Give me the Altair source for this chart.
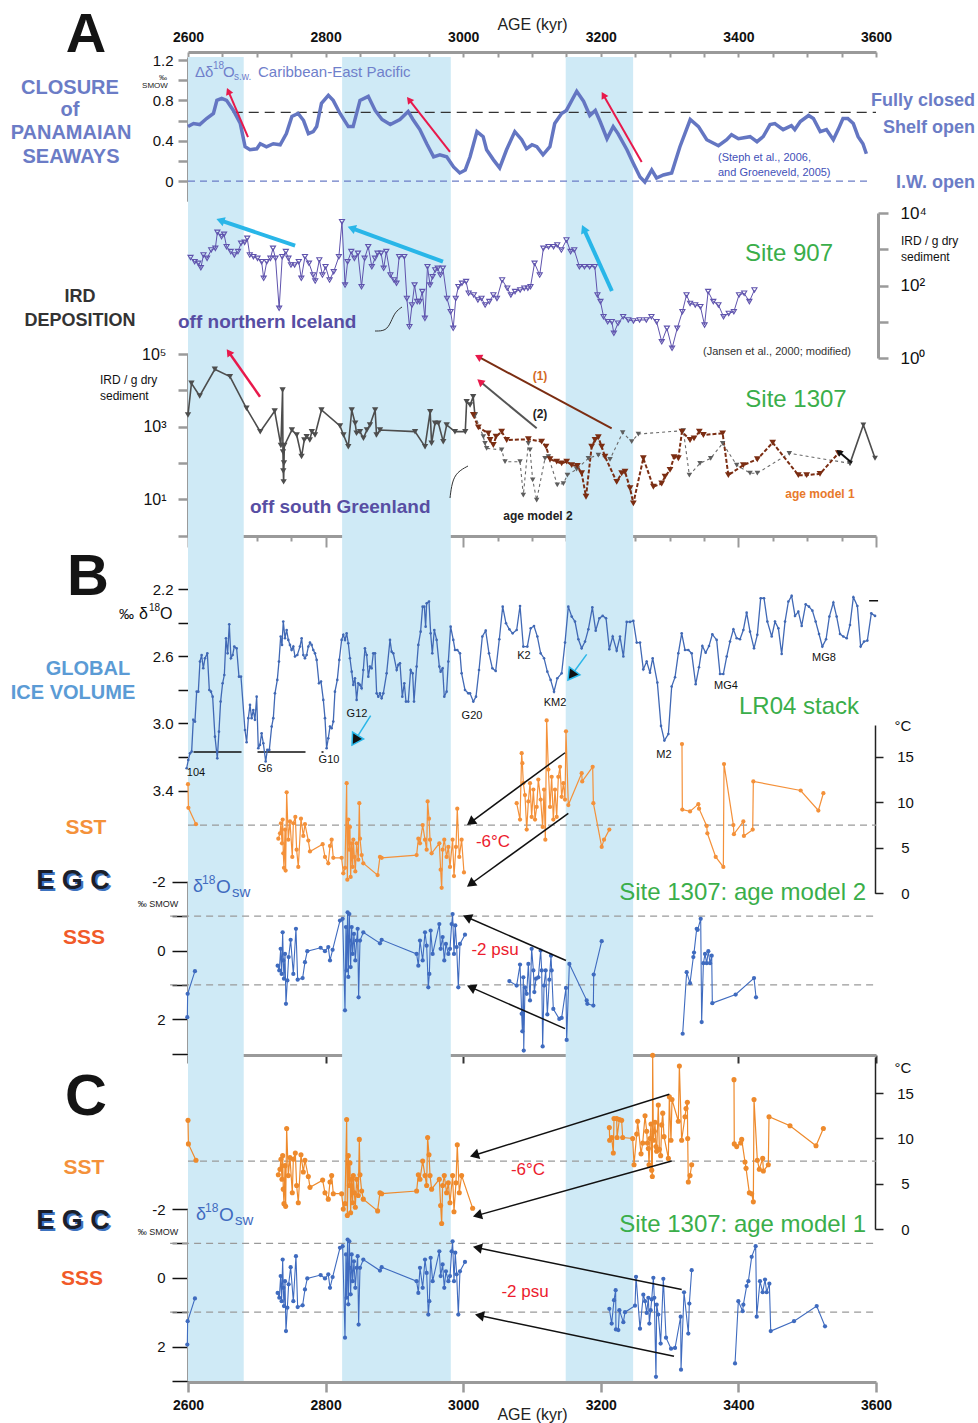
import math
import altair as alt
import pandas as pd

FONT = "Liberation Sans"

# ---------------- values ----------------
AGE_LABELS = [2600, 2800, 3000, 3200, 3400, 3600]
AGE_MINOR = list(range(2600, 3601, 50))
BAND_START = [2600, 2824, 3149]
BAND_END = [2681, 2982, 3247]

# Delta d18O sw Caribbean - East Pacific (permil)
PANAMA = [(2600,0.54),(2608,0.57),(2617,0.56),(2627,0.62),(2637,0.67),(2642,0.80),(2649,0.82),(2656,0.80),
          (2666,0.70),(2676,0.57),(2683,0.34),(2690,0.31),(2700,0.32),(2705,0.37),(2714,0.34),(2724,0.37),
          (2734,0.36),(2743,0.47),(2751,0.64),(2760,0.67),(2768,0.60),(2775,0.47),(2782,0.49),(2787,0.54),
          (2794,0.77),(2804,0.85),(2811,0.80),(2821,0.67),(2833,0.54),(2840,0.54),(2850,0.80),(2862,0.84),
          (2872,0.70),(2882,0.61),(2894,0.56),(2908,0.61),(2920,0.69),(2927,0.61),(2937,0.51),(2947,0.37),
          (2957,0.24),(2966,0.26),(2976,0.24),(2986,0.14),(2995,0.08),(3003,0.11),(3010,0.24),(3020,0.49),
          (3029,0.44),(3034,0.31),(3044,0.21),(3053,0.13),(3063,0.31),(3075,0.49),(3085,0.41),(3092,0.32),
          (3100,0.36),(3107,0.34),(3116,0.26),(3126,0.34),(3133,0.57),(3143,0.67),(3150,0.70),(3165,0.89),
          (3175,0.79),(3184,0.65),(3192,0.70),(3199,0.59),(3209,0.42),(3218,0.54),(3225,0.47),(3238,0.31),
          (3247,0.18),(3257,0.04),(3264,-0.01),(3274,0.11),(3281,0.03),(3291,0.06),(3303,0.08),(3315,0.34),
          (3330,0.61),(3342,0.54),(3354,0.41),(3371,0.35),(3383,0.41),(3390,0.46),(3400,0.42),(3417,0.44),
          (3427,0.39),(3436,0.44),(3446,0.56),(3453,0.57),(3465,0.51),(3477,0.55),(3482,0.51),(3490,0.59),
          (3502,0.65),(3509,0.62),(3519,0.49),(3528,0.51),(3538,0.41),(3545,0.51),(3552,0.62),(3559,0.62),
          (3567,0.57),(3574,0.44),(3581,0.37),(3586,0.27)]

# IRD / g dry sediment, Site 907
IRD907 = [(2603.7,590),(2609.7,455),(2615,410),(2618.7,310),(2622.5,695),(2627.7,560),(2633.7,955),(2639.7,1060),
          (2642.7,2930),(2648.7,2230),(2652.4,2580),(2656.1,1180),(2662.1,860),(2667.4,695),(2672.6,860),(2677.1,1460),
          (2682.3,1550),(2686.1,2000),(2689.8,695),(2695.1,625),(2701,560),(2707,455),(2710,158),(2714.5,455),
          (2719.8,560),(2723.5,1060),(2727.2,560),(2732.5,23.5),(2737,625),(2742.2,860),(2746,560),(2749.7,368),
          (2755,368),(2761,455),(2764.7,158),(2770,625),(2775.9,410),(2781.9,195),(2784.9,133),(2790.9,506),
          (2795.4,195),(2799.9,331),(2805.8,142),(2811.8,241),(2819.3,625),(2823.8,5770),(2828.3,103),(2832,455),
          (2837.3,860),(2841.8,560),(2847,773),(2852.2,93),(2856.7,560),(2862,1180),(2867.2,331),(2871.7,560),
          (2875.5,773),(2880.7,773),(2884.4,298),(2888.2,860),(2894.2,195),(2899.4,142),(2903.1,115),(2906.9,625),
          (2914.4,625),(2918.1,44),(2921.9,7.3),(2925.6,29),(2929.3,103),(2933.1,36),(2936.8,36),(2940.6,68),
          (2944.3,12.4),(2948.1,331),(2951.8,103),(2955.5,175),(2959.3,268),(2963,298),(2966.8,195),(2970.5,298),
          (2976.5,44),(2981.7,19),(2985.5,6.6),(2989.2,44),(2993,93),(2998.2,115),(3004.2,128),(3007.9,61),
          (3015.4,55),(3021.4,40),(3026.6,44),(3031.9,29),(3037.9,36),(3043.9,55),(3049.1,44),(3056.6,142),
          (3064.1,84),(3069.3,55),(3075.3,68),(3082.8,75),(3088.8,84),(3094,84),(3097.8,93),(3103.7,410),
          (3111.2,195),(3116.5,1060),(3124,1180),(3131.4,1180),(3136.7,1310),(3142.7,955),(3150.1,1800),(3156.1,860),
          (3161.4,955),(3168.9,331),(3176.3,331),(3183.8,331),(3191.3,331),(3195.1,55),(3199.5,36),(3204,13.8),
          (3210,10),(3216,10),(3219,4.8),(3225,9.1),(3232.5,13.8),(3240,11.2),(3247.5,10.5),(3256.4,11.2),
          (3266.2,11.2),(3273.6,13.8),(3281.1,10),(3288.6,2.8),(3296.1,6.6),(3303.6,1.85),(3311.1,6.6),(3318.6,19),
          (3324.6,55),(3329.8,32),(3337.3,29),(3344.8,26),(3350.8,8.1),(3356,68),(3363.5,36),(3371,29),
          (3378.4,13.8),(3385.9,17),(3393.4,19),(3400.9,55),(3408.4,61),(3415.9,36),(3423.3,75)]

# IRD / g dry sediment, Site 1307
IRD1307_COMMON = [(2600,2090),(2605,15600),(2617,6970),(2639,37800),(2661,23800),(2685,3190),(2705,726),(2726,2690),
                  (2735,300),(2737.5,10200),(2738,200),(2738.5,60),(2739,30),(2739.5,100),(2740,300),(2751,807),
                  (2758,588),(2765,149),(2769,428),(2772.5,528),(2777,428),(2780,726),(2784.6,588),(2794,2870),
                  (2821,1040),(2826,588),(2833,280),(2838,2870),(2843,1230),(2845,653),(2850,726),(2855,475),
                  (2860,807),(2864.5,1110),(2872,2870),(2874,588),(2879,807),(2930,726),(2944.5,280),(2952,2580),
                  (2954,346),(2959,1230),(2964,1230),(2971,385),(2976,1110),(2988,726),(3003,726),(3005,4860),
                  (3010,3940),(3014.5,6680),(3017,2090)]
IRD1307_AM2 = [(3017,2090),(3029.3,528),(3031.7,346),(3034.1,252),(3055.9,227),(3060.8,108),(3082.6,108),(3087.4,13),
               (3094.7,346),(3097.1,227),(3101,34),(3106.8,9.5),(3118.9,134),(3123.8,149),(3136.8,25),(3145.6,27),
               (3151.4,46),(3164.9,67),(3181.9,134),(3196.4,165),(3213.4,126),(3231.8,681),(3244.9,385),(3254.6,625),
               (3320,773),(3328.7,46),(3344.2,97),(3359.7,134),(3377.1,346),(3397.5,87),(3416.9,52),(3427.5,52),
               (3474,184),(3562.2,97)]
IRD1307_END = [(3562.2,97),(3581.6,1110),(3598.6,134)]
IRD1307_AM1 = [(3014.7,2090),(3022,955),(3036.5,653),(3039,428),(3043.8,312),(3047.7,528),(3055.9,726),(3063.2,428),
               (3094.7,447),(3114,385),(3120.4,280),(3126.2,126),(3135.9,108),(3143.1,97),(3150.4,108),(3157.7,87),
               (3165.9,82),(3172.2,52),(3178.5,11.7),(3186.7,280),(3191.6,428),(3196.4,507),(3201.3,280),(3206.1,149),
               (3223.1,30),(3230.3,52),(3235.2,57),(3242.5,20),(3247.3,7.7),(3261.8,134),(3276.4,22),(3288.5,27),
               (3293.3,42),(3300.6,64),(3306.4,143),(3312.7,134),(3318,726),(3329.7,428),(3335.5,475),(3343.2,726),
               (3349.1,588),(3377.1,653),(3385.4,46),(3407.2,87),(3427.5,126),(3449.8,361),(3487.1,46),(3499.2,46),
               (3518.6,50),(3545.3,184)]

# LR04 benthic d18O stack (permil)
LR04 = [(2598.0,3.267),(2600.4,3.218),(2602.9,3.178),(2605.3,3.168),(2607.7,2.979),(2610.1,2.989),(2612.6,2.811),
        (2615.0,2.811),(2617.4,2.632),(2619.8,2.593),(2622.2,2.672),(2624.7,2.612),(2628.1,2.583),(2631.0,2.801),
        (2633.4,2.811),(2635.8,2.841),(2639.2,3.079),(2642.6,3.208),(2645.0,3.049),(2647.4,2.870),(2650.3,2.761),
        (2652.8,2.712),(2655.2,2.493),(2657.6,2.583),(2660.0,2.410),(2662.4,2.612),(2664.9,2.593),(2667.3,2.543),
        (2670.7,2.553),(2674.1,2.722),(2677.0,2.722),(2682.8,3.039),(2685.2,3.112),(2687.7,2.969),(2690.1,2.890),
        (2692.5,2.969),(2694.9,2.920),(2697.3,2.979),(2699.8,2.841),(2702.2,3.148),(2704.6,3.128),(2707.0,3.059),
        (2709.5,3.118),(2712.9,3.227),(2715.3,3.158),(2718.2,3.158),(2721.6,3.019),(2724.0,2.969),(2726.4,2.821),
        (2729.8,2.741),(2732.2,2.632),(2734.7,2.483),(2736.6,2.533),(2738.5,2.394),(2741.0,2.493),(2743.4,2.444),
        (2745.8,2.503),(2748.2,2.533),(2750.6,2.563),(2753.1,2.543),(2755.5,2.602),(2758.9,2.593),(2762.7,2.543),
        (2765.2,2.493),(2767.6,2.593),(2770.0,2.612),(2772.4,2.593),(2774.9,2.543),(2777.3,2.519),(2779.7,2.533),
        (2782.1,2.563),(2784.6,2.583),(2787.0,2.622),(2790.4,2.761),(2793.3,2.751),(2796.7,2.860),(2799.1,2.969),
        (2801.5,3.148),(2803.9,3.089),(2806.4,3.019),(2808.8,3.029),(2811.2,2.989),(2813.6,2.811),(2817.0,2.741),
        (2819.9,2.622),(2823.3,2.503),(2825.7,2.473),(2828.2,2.503),(2830.6,2.464),(2833.0,2.523),(2835.4,2.612),
        (2837.9,2.692),(2840.3,2.771),(2842.7,2.731),(2845.1,2.860),(2847.5,2.761),(2850.0,2.771),(2852.4,2.791),
        (2854.8,2.682),(2857.2,2.553),(2859.7,2.593),(2862.1,2.722),(2864.5,2.662),(2866.9,2.672),(2869.3,2.583),
        (2871.8,2.583),(2874.2,2.821),(2876.6,2.841),(2879.0,2.821),(2881.5,2.850),(2883.9,2.821),(2888.7,2.702),
        (2893.6,2.503),(2896.0,2.573),(2898.4,2.583),(2903.3,2.682),(2905.7,2.652),(2908.1,2.642),(2911.5,2.841),
        (2914.4,2.761),(2916.8,2.870),(2920.2,2.870),(2923.6,2.682),(2926.5,2.702),(2928.5,2.870),(2932.3,2.662),
        (2934.8,2.533),(2938.1,2.454),(2941.0,2.305),(2943.5,2.305),(2945.4,2.424),(2946.9,2.285),(2950.3,2.275),
        (2952.7,2.464),(2955.1,2.583),(2958.0,2.444),(2961.4,2.503),(2965.3,2.662),(2967.2,2.692),(2970.1,2.672),
        (2972.5,2.841),(2975.9,2.811),(2978.4,2.632),(2981.7,2.424),(2985.6,2.503),(2988.1,2.563),(2991.4,2.563),
        (2995.3,2.583),(2997.7,2.702),(3002.6,2.801),(3007.4,2.821),
        (3009.9,2.821),(3014.7,2.870),(3018.6,2.841),(3023.0,2.682),(3027.8,2.483),(3032.7,2.448),(3037.5,2.583),
        (3042.4,2.672),(3047.2,2.688),(3052.5,2.499),(3057.4,2.305),(3062.2,2.404),(3067.1,2.440),(3071.9,2.464),
        (3077.7,2.444),(3082.6,2.301),(3087.4,2.543),(3093.2,2.543),(3098.1,2.434),(3102.9,2.420),(3107.8,2.483),
        (3112.6,2.583),(3117.5,2.612),(3122.3,2.692),(3127.1,2.741),(3132.0,2.811),(3136.8,2.731),(3143.1,2.702),
        (3148.0,2.519),(3152.8,2.305),(3157.7,2.364),(3162.5,2.394),(3167.4,2.499),(3172.2,2.553),(3177.1,2.513),
        (3181.9,2.440),(3187.7,2.309),(3192.6,2.448),(3197.9,2.374),(3202.7,2.360),(3207.6,2.374),(3212.4,2.559),
        (3217.3,2.483),(3223.1,2.567),(3227.9,2.483),(3232.8,2.602),(3237.6,2.396),(3242.5,2.396),(3247.3,2.390),
        (3252.2,2.519),(3257.0,2.519),(3261.8,2.678),(3266.7,2.632),(3271.5,2.698),(3275.4,2.612),(3282.2,2.757),
        (3287.5,3.015),(3292.4,3.102),(3298.2,3.063),(3303.0,2.781),(3307.9,2.725),(3312.7,2.583),(3317.6,2.464),
        (3322.4,2.563),(3327.2,2.563),(3332.1,2.583),(3337.9,2.767),(3342.7,2.666),(3347.6,2.539),(3352.4,2.579),
        (3357.3,2.539),(3362.1,2.470),(3368.4,2.503),(3373.3,2.706),(3378.1,2.706),(3383.0,2.602),(3387.8,2.513),
        (3392.7,2.440),(3397.5,2.493),(3402.3,2.499),(3407.2,2.444),(3412.0,2.341),(3416.9,2.454),(3422.7,2.553),
        (3427.5,2.473),(3432.4,2.255),(3437.2,2.255),(3442.1,2.394),(3448.4,2.483),(3453.2,2.394),(3458.1,2.434),
        (3462.9,2.587),(3467.8,2.394),(3472.6,2.275),(3477.4,2.241),(3482.3,2.360),(3487.1,2.335),(3492.0,2.420),
        (3497.8,2.291),(3502.6,2.305),(3507.5,2.329),(3512.3,2.394),(3517.2,2.468),(3522.0,2.543),(3527.4,2.499),
        (3532.2,2.364),(3538.0,2.281),(3542.8,2.364),(3547.7,2.468),(3552.5,2.483),(3557.4,2.493),(3562.2,2.414),
        (3567.1,2.249),(3572.9,2.301),(3577.7,2.543),(3582.6,2.513),(3587.4,2.507),(3593.2,2.345),(3598.6,2.360)]

# Site 1307 SST (deg C), part common to both age models
SST_EARLY = [(2600,12.0),(2600.6,9.4),(2611.6,7.6)]
SST_MID = [(2731.3,6.0),(2733.7,6.6),(2735.1,7.7),(2736.6,5.5),(2737.6,8.1),(2738.5,4.4),(2739.5,2.8),(2741.0,7.0),
           (2741.9,2.5),(2743.4,11.1),(2745.8,5.9),(2748.2,7.9),(2751.6,4.0),(2753.1,7.7),(2756.0,8.4),(2757.9,4.8),
           (2760.3,2.9),(2764.2,8.2),(2767.6,6.3),(2770.0,7.6),(2774.9,5.8),(2777.3,4.6),(2795.7,5.4),(2799.1,4.0),
           (2803.9,3.3),(2806.4,5.2),(2808.8,5.9),(2811.2,3.9),(2823.3,3.9),(2825.7,2.2),(2828.2,2.8),(2830.6,12.1),
           (2831.6,1.5),(2833.0,8.1),(2834.5,4.8),(2835.4,7.3),(2836.4,1.8),(2837.9,5.5),(2839.3,2.9),(2840.3,5.9),
           (2841.8,4.0),(2843.2,2.4),(2845.1,5.5),(2847.5,3.7),(2849.0,9.9),(2850.0,6.0),(2852.4,4.2),(2854.8,3.3),
           (2875.6,2.0),(2879.0,4.0),(2881.5,3.9),(2932.3,4.2),(2934.8,6.0),(2937.2,5.5),(2941.1,7.5),(2944.5,5.9),
           (2946.9,4.8),(2948.3,10.1),(2950.3,8.2),(2951.8,5.9),(2954.1,4.4),(2965.3,5.5),(2967.2,2.6),(2968.7,0.6),
           (2970.1,4.8),(2972.5,5.9),(2975.9,4.0),(2978.4,5.1),(2980.8,2.9),(2984.6,5.9),(2986.6,1.9),(2989.5,5.1),
           (2991.4,9.3),(2994.3,4.0),(2997.7,5.9)]
SST_AM2_TAIL = [(3001.1,2.3)]
SST_AM1_TAIL = [(3013.7,2.3)]
SST_AM2_A = [(3077.7,9.9),(3082.6,8.1),(3085.0,15.4),(3086.0,14.3),(3087.4,12.1),(3089.8,10.8),(3092.3,7.0),
             (3094.7,10.1),(3097.1,12.1),(3099.5,8.4),(3102.0,11.4),(3104.4,8.1),(3106.8,9.5),(3109.2,12.5),
             (3112.6,10.3),(3115.5,7.3),(3117.5,11.4),(3119.4,5.9),(3121.3,19.0),(3123.8,13.6),(3126.2,9.5),
             (3128.6,12.8),(3131.0,8.1),(3133.4,11.4),(3135.9,8.4),(3138.3,12.8),(3140.7,13.9),(3143.1,10.6),
             (3145.6,12.1),(3148.0,10.3),(3149.4,17.8),(3152.8,9.7),(3172.2,13.2),(3173.0,12.3),(3188.2,13.9),
             (3189.2,9.9),(3201.3,5.1),(3204.7,5.9),(3212.4,7.0)]
SST_AM2_B = [(3318.0,16.4),(3318.5,9.2),(3329.7,9.0),(3341.8,9.8),(3342.8,9.3),(3353.9,7.4),(3354.9,6.6),(3367.0,4.0),
             (3378.1,2.9),(3379.1,14.2),(3392.7,7.5),(3393.5,6.5),(3407.2,7.9),(3408.0,6.3),(3420.8,7.0),(3421.7,12.3),
             (3490.5,11.3),(3516.2,9.1),(3523.5,11.0)]
SST_AM1_A = [(3212.4,11.2),(3212.9,9.8),(3215.8,10.1),(3218.2,8.4),(3219.2,12.2),(3223.1,12.2),(3223.6,10.1),
             (3227.0,12.1),(3230.3,12.0),(3231.8,10.1),(3246.3,10.0),(3248.3,7.1),(3252.2,10.5),(3253.6,11.9),
             (3258.5,8.3),(3260.9,9.5),(3264.3,12.5),(3266.7,10.8),(3267.7,9.5),(3269.1,8.9),(3270.1,7.1),
             (3271.5,10.0),(3273.0,11.6),(3274.0,6.5),(3274.9,5.8),(3275.4,19.2),(3276.4,9.8),(3277.8,10.8),
             (3278.8,11.8),(3280.2,9.1),(3281.2,8.6),(3283.6,13.7),(3285.1,8.8),(3287.0,8.1),(3288.5,11.5),
             (3290.0,12.8),(3291.9,10.2),(3298.2,7.8),(3299.6,14.6),(3302.0,9.8),(3303.5,14.3),(3312.7,11.9),
             (3314.2,18.0),(3317.5,9.8),(3322.4,12.4),(3323.9,13.3),(3325.8,14.0),(3326.3,10.0),(3327.2,5.2),
             (3329.7,5.9),(3332.1,7.1)]
SST_AM1_B = [(3393.6,16.5),(3394.0,9.4),(3397.5,9.1),(3403.3,9.5),(3404.8,9.9),(3409.6,7.4),(3411.1,6.7),(3415.9,4.0),
             (3419.3,3.9),(3421.7,3.0),(3422.7,14.3),(3427.5,7.6),(3430.4,6.6),(3435.3,7.8),(3436.3,6.4),(3443.5,7.1),
             (3444.5,12.4),(3475.0,11.4),(3512.8,9.2),(3523.5,11.1)]

# Site 1307 d18O seawater (permil SMOW)
SW_EARLY = [(2599.0,1.94),(2599.5,1.26),(2610.1,0.60)]
SW_MID = [(2730.3,0.44),(2732.7,0.58),(2734.7,-0.05),(2736.1,0.68),(2737.6,-0.53),(2738.5,0.29),(2739.5,0.82),
          (2741.0,0.10),(2742.4,1.55),(2744.4,0.87),(2746.3,0.19),(2749.2,-0.31),(2753.1,0.68),(2756.9,-0.63),
          (2759.4,0.85),(2766.6,0.80),(2770.0,0.34),(2773.4,0.02),(2792.8,-0.08),(2799.1,0.02),(2803.9,-0.10),
          (2806.4,0.29),(2810.2,-0.02),(2820.9,-0.87),(2824.8,-0.92),(2828.2,1.74),(2829.6,-0.68),(2830.6,0.58),
          (2832.0,-1.11),(2833.0,0.77),(2834.5,-1.06),(2835.4,-0.29),(2836.4,0.48),(2837.9,-0.68),(2839.3,0.10),
          (2841.2,-0.48),(2843.2,0.29),(2845.1,-0.29),(2846.6,-0.63),(2848.0,1.36),(2850.0,-0.29),(2854.8,-0.53),
          (2879.0,-0.21),(2881.5,-0.31),(2932.3,0.10),(2934.8,0.44),(2937.2,-0.29),(2941.1,0.29),(2944.5,-0.53),
          (2946.9,-0.14),(2949.3,1.07),(2950.8,0.68),(2952.7,-0.58),(2955.6,0.10),(2965.3,-0.77),(2967.2,-0.05),
          (2970.1,-0.39),(2972.5,0.29),(2974.9,-0.19),(2978.4,0.10),(2980.8,-0.05),(2983.2,-0.77),(2984.6,-1.06),
          (2986.6,0.10),(2988.5,-0.73),(2990.5,-0.10),(2992.9,1.07),(2995.3,-0.19),(3002.6,-0.46)]
SW_AM2_A = [(3067.1,0.89),(3077.7,1.02),(3082.6,0.41),(3085.0,1.84),(3086.0,2.35),(3087.4,0.78),(3088.0,2.91),
            (3089.8,1.07),(3092.3,1.26),(3094.7,0.39),(3097.1,1.45),(3099.5,-0.05),(3102.0,0.58),(3103.4,1.21),
            (3105.8,0.82),(3109.2,0.78),(3112.6,0.00),(3114.1,0.58),(3115.5,2.79),(3117.5,1.02),(3119.9,0.58),
            (3122.3,1.86),(3125.2,0.85),(3127.6,0.15),(3128.6,0.58),(3131.0,1.70),(3139.7,1.99),(3143.1,1.96),
            (3149.4,1.09),(3150.4,2.60),(3154.3,0.39),(3179.5,1.45),(3180.4,1.55),(3189.2,1.60),(3189.7,0.70),
            (3201.3,-0.27)]
SW_AM2_B = [(3319.0,2.42),(3324.8,0.63),(3329.7,0.95),(3334.5,0.19),(3335.5,0.06),(3339.4,-0.63),(3340.8,-0.60),
            (3345.2,-0.92),(3346.6,2.08),(3349.1,0.37),(3351.5,0.10),(3353.9,0.37),(3356.3,0.02),(3358.8,0.37),
            (3361.2,0.15),(3362.1,1.53),(3396.0,1.28),(3422.7,0.80),(3425.6,1.36)]
SW_AM1_A = [(3212.4,0.90),(3215.8,1.33),(3219.2,0.65),(3221.6,0.36),(3222.0,1.50),(3225.5,1.52),(3227.0,0.94),
            (3232.8,1.29),(3235.2,1.00),(3249.7,0.81),(3251.2,-0.03),(3257.0,1.48),(3261.8,0.49),(3264.3,0.68),
            (3266.7,1.02),(3269.1,0.58),(3270.6,1.33),(3272.5,0.94),(3274.0,0.63),(3276.4,0.00),(3277.8,0.58),
            (3280.2,2.88),(3281.2,0.78),(3283.6,1.07),(3287.0,1.91),(3290.9,0.03),(3294.8,1.74),(3302.1,2.06),
            (3307.9,2.04),(3316.1,1.13),(3316.6,2.67),(3321.0,0.42),(3327.2,1.62),(3328.7,0.75),(3332.1,-0.22)]
SW_AM1_B = [(3395.1,2.49),(3399.9,0.68),(3406.2,0.97),(3407.2,0.78),(3412.0,0.24),(3414.5,0.10),(3419.3,-0.61),
            (3425.1,-0.92),(3426.6,1.13),(3431.4,0.10),(3435.3,0.42),(3438.7,0.05),(3441.1,0.42),(3445.0,0.17),
            (3447.0,1.55),(3480.8,1.26),(3513.8,0.82),(3525.9,1.41)]

# reference levels
PANAMA_CLOSED = 0.68
LR04_LEVEL = 3.17
SST_LEVEL = 7.5
SW_LEVELS = [-1, 1]

# ---------------- layout (page pixels) ----------------
L0, T0 = 188, 52
W, H = 688, 1330

# value domain -> page-pixel span for every stacked y scale
SC = {
    'SA':    (-0.2, 1.23, 201.2, 57.0, 'linear'),
    'S907':  (1, 10000, 358.0, 213.0, 'log'),
    'S1307': (1, 100000, 535.5, 354.0, 'log'),
    'SL':    (2.2, 3.4, 589.0, 790.6, 'linear'),
    'SSTB':  (0, 18.5, 893.3, 725.0, 'linear'),
    'SWB':   (-2, 3, 881.7, 1053.7, 'linear'),
    'SSTC':  (0, 19, 1229.0, 1057.0, 'linear'),
    'SWC':   (-2, 3, 1209.0, 1381.0, 'linear'),
}

GRAY = '#9a9a9a'
BAND = '#cfeaf6'
PAN = '#6b7cc6'
PURP = '#574ea3'
GREEN = '#3aae4a'
RED = '#ec1c2e'
ORANGE = '#f4913a'
SWBLUE = '#3f6bbf'
PINK = '#e8194b'
CYAN = '#29b6e8'

XS = alt.Scale(domain=[2600, 3600], nice=False, zero=False)


def xenc(field='age', axis=None):
    return alt.X(f'{field}:Q', scale=XS, axis=axis)


def yscale(key):
    d0, d1, p0, p1, typ = SC[key]
    if typ == 'log':
        return alt.Scale(type='log', domain=[d0, d1], range=[p0 - T0, p1 - T0], nice=False)
    return alt.Scale(domain=[d0, d1], range=[p0 - T0, p1 - T0], nice=False, zero=False)


def yenc(key, field='v', axis=None):
    return alt.Y(f'{field}:Q', scale=yscale(key), axis=axis)


def ypx(key, v):
    d0, d1, p0, p1, typ = SC[key]
    if typ == 'log':
        f = (math.log10(v) - math.log10(d0)) / (math.log10(d1) - math.log10(d0))
    else:
        f = (v - d0) / (d1 - d0)
    return p0 + f * (p1 - p0)


def yinv(key, p):
    d0, d1, p0, p1, typ = SC[key]
    f = (p - p0) / (p1 - p0)
    if typ == 'log':
        return 10 ** (math.log10(d0) + f * (math.log10(d1) - math.log10(d0)))
    return d0 + f * (d1 - d0)


def seg_df(segments):
    rows, k = [], 0
    for s, seg in enumerate(segments):
        for a, v in seg:
            rows.append({'age': a, 'v': v, 'seg': s, 'k': k})
            k += 1
    return pd.DataFrame(rows)


def line(df, key, color, width, dash=None, axis=None):
    kw = dict(color=color, strokeWidth=width)
    if dash:
        kw['strokeDash'] = dash
    return alt.Chart(df).mark_line(**kw).encode(
        x=xenc(), y=yenc(key, axis=axis), detail='seg:N', order='k:Q')


def points(df, key, color, size, shape='circle', filled=True, sw=1.0):
    return alt.Chart(df).mark_point(shape=shape, filled=filled, color=color, size=size,
                                    strokeWidth=sw, opacity=1).encode(x=xenc(), y=yenc(key))


def yaxis(orient, values, expr, dcol, dw, tcol, tw, ts, lsize, lpad, offset=0, align=None):
    kw = dict(orient=orient, values=values, labelExpr=expr, domainColor=dcol, domainWidth=dw,
              tickColor=tcol, tickWidth=tw, tickSize=ts, labelFontSize=lsize, labelFont=FONT,
              labelColor='#111', labelPadding=lpad, offset=offset, title=None, grid=False,
              labelOverlap=False, labelFlush=False, labelBound=False)
    if align:
        kw['labelAlign'] = align
    return alt.Axis(**kw)


def xaxis_layer(**kw):
    base = dict(grid=False, title=None, labelFlush=False, labelOverlap=False, labelBound=False)
    base.update(kw)
    return alt.Chart(pd.DataFrame({'age': [3000.0]})).mark_point(opacity=0).encode(
        x=alt.X('age:Q', scale=XS, axis=alt.Axis(**base)))


def hrule(key, rows, color, width, dash):
    df = pd.DataFrame(rows, columns=['a0', 'a1', 'v'])
    return alt.Chart(df).mark_rule(color=color, strokeWidth=width, strokeDash=dash).encode(
        x=xenc('a0'), x2=alt.X2('a1'), y=yenc(key))


def arrows(key, rows, shaft_color, width, head_color, head_size, head_stroke=None):
    recs = []
    for a0, v0, a1, v1 in rows:
        dx = (a1 - a0) * W / 1000.0
        dy = ypx(key, v1) - ypx(key, v0)
        n = math.hypot(dx, dy)
        ux, uy = dx / n, dy / n
        ang = math.degrees(math.atan2(dx, -dy)) % 360
        h = 0.433 * math.sqrt(head_size)
        ha = a1 - ux * h * 1000.0 / W
        hv = yinv(key, ypx(key, v1) - uy * h)
        recs.append(dict(a0=a0, v0=v0, ha=ha, hv=hv, ang=ang))
    df = pd.DataFrame(recs)
    shaft = alt.Chart(df).mark_rule(color=shaft_color, strokeWidth=width).encode(
        x=xenc('a0'), x2=alt.X2('ha'), y=yenc(key, 'v0'), y2=alt.Y2('hv'))
    kw = dict(shape='triangle-up', filled=True, fill=head_color, size=head_size, opacity=1)
    if head_stroke:
        kw.update(stroke=head_stroke, strokeWidth=1.5)
    else:
        kw.update(strokeWidth=0)
    head = alt.Chart(df).mark_point(**kw).encode(
        x=xenc('ha'), y=yenc(key, 'hv'), angle=alt.Angle('ang:Q', scale=None))
    return [shaft, head]


def text_layer(rows, weight, align):
    df = pd.DataFrame(rows, columns=['t', 'px', 'py', 'fs', 'col'])
    df['px'] = df['px'] - L0
    df['py'] = df['py'] - T0
    return alt.Chart(df).mark_text(align=align, baseline='middle', font=FONT, fontWeight=weight).encode(
        x=alt.X('px:Q', scale=None, axis=None),
        y=alt.Y('py:Q', scale=None, axis=None),
        text=alt.Text('t:N'),
        size=alt.Size('fs:Q', scale=None, legend=None),
        color=alt.Color('col:N', scale=None, legend=None))


def pxline(pts, color, width):
    df = pd.DataFrame([{'x': x - L0, 'y': y - T0, 'k': i} for i, (x, y) in enumerate(pts)])
    return alt.Chart(df).mark_line(color=color, strokeWidth=width, interpolate='basis').encode(
        x=alt.X('x:Q', scale=None, axis=None), y=alt.Y('y:Q', scale=None, axis=None), order='k:Q')


layers = []

# shaded intervals
bands = pd.DataFrame({'a0': BAND_START, 'a1': BAND_END})
layers.append(alt.Chart(bands).mark_rect(color=BAND).encode(
    x=xenc('a0'), x2=alt.X2('a1'), y=alt.value(57 - T0), y2=alt.value(1381 - T0)))

# x axes
layers.append(xaxis_layer(orient='bottom', offset=-H, values=AGE_MINOR, labels=False,
                          domainColor=GRAY, domainWidth=3, tickColor=GRAY, tickWidth=2, tickSize=5))
layers.append(xaxis_layer(orient='top', values=AGE_LABELS, domain=False, ticks=False, format='d',
                          labelFontSize=14, labelFontWeight='bold', labelFont=FONT, labelColor='#111',
                          labelPadding=8, title='AGE (kyr)', titleFont=FONT, titleFontSize=16,
                          titleFontWeight='normal', titleColor='#222', titlePadding=-2))
layers.append(xaxis_layer(orient='bottom', offset=536 - (T0 + H), values=AGE_MINOR, labels=False,
                          domainColor=GRAY, domainWidth=3, tickColor=GRAY, tickWidth=2,
                          tickSize={'condition': {'test': 'datum.value % 200 === 0', 'value': 11}, 'value': 5}))
layers.append(xaxis_layer(orient='bottom', offset=1055 - (T0 + H), values=AGE_LABELS, labels=False,
                          domainColor=GRAY, domainWidth=3, tickColor='#333', tickWidth=2, tickSize=8))
layers.append(xaxis_layer(orient='bottom', offset=0, values=AGE_LABELS, format='d',
                          domainColor=GRAY, domainWidth=3, tickColor=GRAY, tickWidth=2.5, tickSize=10,
                          labelFontSize=14, labelFontWeight='bold', labelFont=FONT, labelColor='#111',
                          labelPadding=6, title='AGE (kyr)', titleFont=FONT, titleFontSize=16,
                          titleFontWeight='normal', titleColor='#222', titlePadding=-6))

# reference lines
layers.append(hrule('SA', [(2665, 3600, PANAMA_CLOSED)], '#333', 1.2, [10, 6]))
layers.append(hrule('SA', [(2600, 3590, 0)], PAN, 1.2, [7, 5]))
layers.append(hrule('SL', [(2608, 2797, LR04_LEVEL)], '#111', 1.5, [48, 16]))
layers.append(hrule('SL', [(3590, 3603, 2.27)], '#111', 1.5, [1, 0]))
layers.append(hrule('SSTB', [(2600, 3600, SST_LEVEL)], GRAY, 1.2, [7, 5]))
layers.append(hrule('SWB', [(2574, 3600, SW_LEVELS[0]), (2574, 3600, SW_LEVELS[1])], GRAY, 1.2, [7, 5]))
layers.append(hrule('SSTC', [(2600, 3600, SST_LEVEL)], GRAY, 1.2, [7, 5]))
layers.append(hrule('SWC', [(2574, 3600, SW_LEVELS[0]), (2574, 3600, SW_LEVELS[1])], GRAY, 1.2, [7, 5]))

# ---- panel A: Panama ----
ax_sa = yaxis('left', [0, 0.2, 0.4, 0.6, 0.8, 1.0, 1.2],
              "abs(datum.value-1.2)<0.01 ? '1.2' : abs(datum.value-0.8)<0.01 ? '0.8' : "
              "abs(datum.value-0.4)<0.01 ? '0.4' : abs(datum.value)<0.01 ? '0' : ''",
              GRAY, 3, GRAY, 2.5, 10, 15, 5)
layers.append(line(seg_df([PANAMA]), 'SA', '#6476c2', 3.5, axis=ax_sa))

# ---- IRD Site 907 ----
ax_907 = yaxis('right', [1, 10, 100, 1000, 10000],
               "datum.value == 1 ? '10⁰' : datum.value == 100 ? '10²' : datum.value == 10000 ? '10⁴' : ''",
               GRAY, 3, GRAY, 2.5, 10, 17, 12, offset=2, align='left')
d907 = seg_df([IRD907])
layers.append(line(d907, 'S907', '#5f53ad', 1, axis=ax_907))
layers.append(points(d907, 'S907', '#5f53ad', 26, shape='triangle-down', filled=False, sw=1.1))

# ---- IRD Site 1307 ----
ax_1307 = yaxis('left', [1, 10, 100, 1000, 10000, 100000],
                "datum.value == 100000 ? '10⁵' : datum.value == 1000 ? '10³' : datum.value == 10 ? '10¹' : ''",
                GRAY, 3, GRAY, 2.5, 10, 16, 12)
dcom = seg_df([IRD1307_COMMON])
dam2 = seg_df([IRD1307_AM2])
dend = seg_df([IRD1307_END])
dam1 = seg_df([IRD1307_AM1])
layers.append(line(dcom, 'S1307', '#4d4d4d', 1.6, axis=ax_1307))
layers.append(line(dam2, 'S1307', '#6a6a6a', 1.1, dash=[3, 3]))
layers.append(line(dend, 'S1307', '#4d4d4d', 1.6))
layers.append(line(dam1, 'S1307', '#7b2d12', 2, dash=[4, 2]))
layers.append(points(dcom, 'S1307', '#4d4d4d', 40, shape='triangle-down'))
layers.append(points(dam2, 'S1307', '#5e5e5e', 30, shape='triangle-down'))
layers.append(points(dend, 'S1307', '#4d4d4d', 34, shape='triangle-down'))
layers.append(points(dam1, 'S1307', '#7b2d12', 46, shape='triangle-down'))

# ---- panel B: LR04 ----
ax_sl = yaxis('left', [2.2, 2.4, 2.6, 2.8, 3.0, 3.2, 3.4],
              "(abs(datum.value-2.2)<0.01 || abs(datum.value-2.6)<0.01 || abs(datum.value-3)<0.01 || "
              "abs(datum.value-3.4)<0.01) ? format(datum.value, '.1f') : ''",
              '#222', 1, '#111', 1.5, 10, 15, 5)
dl = seg_df([LR04])
layers.append(line(dl, 'SL', '#4169b5', 1.3, axis=ax_sl))
layers.append(points(dl, 'SL', '#4169b5', 7))

# ---- SST / SSS, age model 2 ----
ax_sstb = yaxis('right', [0, 5, 10, 15], "format(datum.value, 'd')", '#222', 1.5, '#222', 1.5, 8, 15, 22,
                offset=-1, align='center')
ax_swb = yaxis('left', [-2, -1, 0, 1, 2, 3],
               "datum.value == -2 ? '-2' : datum.value == 0 ? '0' : datum.value == 2 ? '2' : ''",
               GRAY, 3, '#111', 1.5, 16, 15, 7)
dsstb = seg_df([SST_EARLY, SST_MID + SST_AM2_TAIL, SST_AM2_A, SST_AM2_B])
dswb = seg_df([SW_EARLY, SW_MID, SW_AM2_A, SW_AM2_B])
layers.append(line(dsstb, 'SSTB', ORANGE, 1.2, axis=ax_sstb))
layers.append(points(dsstb, 'SSTB', ORANGE, 18))
layers.append(line(dswb, 'SWB', SWBLUE, 1.1, axis=ax_swb))
layers.append(points(dswb, 'SWB', SWBLUE, 18))

# ---- panel C: age model 1 ----
ax_sstc = yaxis('right', [0, 5, 10, 15], "format(datum.value, 'd')", '#222', 1.5, '#222', 1.5, 8, 15, 22,
                offset=-1, align='center')
ax_swc = yaxis('left', [-2, -1, 0, 1, 2, 3],
               "datum.value == -2 ? '-2' : datum.value == 0 ? '0' : datum.value == 2 ? '2' : ''",
               GRAY, 3, '#111', 1.5, 16, 15, 7)
dsstc = seg_df([SST_EARLY, SST_MID + SST_AM1_TAIL, SST_AM1_A, SST_AM1_B])
dswc = seg_df([SW_EARLY, SW_MID, SW_AM1_A, SW_AM1_B])
layers.append(line(dsstc, 'SSTC', '#ee8a2c', 1.2, axis=ax_sstc))
layers.append(points(dsstc, 'SSTC', '#ee8a2c', 26))
layers.append(line(dswc, 'SWC', SWBLUE, 1.1, axis=ax_swc))
layers.append(points(dswc, 'SWC', SWBLUE, 18))

# ---- arrows ----
layers += arrows('SA', [(2687.2, 0.436, 2656.7, 0.922), (2980.8, 0.288, 2918.3, 0.833),
                        (3259.4, 0.188, 3201.3, 0.883)], PINK, 2, PINK, 60)
layers += arrows('S907', [(2755.7, 1253, 2641.3, 6830), (2970.6, 454, 2832.1, 4190),
                          (3216.1, 70.5, 3172.7, 4670)], CYAN, 4, CYAN, 90)
layers += arrows('S1307', [(2704.7, 6670, 2656.3, 134900)], PINK, 2.5, PINK, 70)
layers += arrows('S1307', [(3215.8, 898, 3017.2, 93800)], '#7b2d12', 2, PINK, 70)
layers += arrows('S1307', [(3106.8, 898, 3020.5, 20100)], '#555555', 2, PINK, 70)
layers += arrows('S1307', [(3564.7, 101, 3542.9, 226)], '#111', 2, '#111', 50)
layers += arrows('SL', [(2865.5, 2.954, 2838.4, 3.129), (3179.5, 2.589, 3152.3, 2.742)], CYAN, 1.5,
                 '#111', 170, head_stroke=CYAN)
layers += arrows('SSTB', [(3148, 15.45, 3005.5, 7.51), (3152.8, 8.79, 3005.5, 0.73)], '#111', 1.5, '#111', 110)
layers += arrows('SWB', [(3149.4, 0.29, 2999.7, -1.02), (3148, 2.27, 3005.5, 1.02)], '#111', 1.5, '#111', 110)
layers += arrows('SSTC', [(3299.6, 14.88, 3009.9, 8.0), (3303, 7.51, 3014.2, 1.37)], '#111', 1.5, '#111', 110)
layers += arrows('SWC', [(3317.6, 0.34, 3014.2, -0.90), (3306.4, 2.28, 3017.2, 1.07)], '#111', 1.5, '#111', 110)

# curly pointers
layers.append(pxline([(375, 331), (386, 331), (391, 322), (395, 312), (402, 307)], '#333', 1))
layers.append(pxline([(450, 498), (452, 482), (457, 472), (468, 466)], '#333', 1))

# ---- texts ----
BOLD_CENTER = [
    ("A", 86, 35, 56, '#141414'), ("B", 88, 578, 58, '#141414'), ("C", 86, 1098, 58, '#141414'),
    ("CLOSURE", 70, 88, 20, PAN), ("of", 70, 110, 20, PAN), ("PANAMAIAN", 71, 133, 20, PAN),
    ("SEAWAYS", 71, 157, 20, PAN),
    ("IRD", 80, 297, 18, '#333'), ("DEPOSITION", 80, 321, 18, '#333'),
    ("(1)", 540, 376, 12, '#d46a1f'), ("(2)", 540, 414, 12, '#222'),
    ("age model 2", 538, 516, 12, '#222'), ("age model 1", 820, 494, 12, '#e8792b'),
    ("GLOBAL", 88, 669, 20, '#5b9bd5'), ("ICE VOLUME", 73, 693, 20, '#5b9bd5'),
    ("SST", 86, 828, 21, ORANGE), ("SSS", 84, 938, 21, '#f15a29'),
    ("SST", 84, 1168, 21, ORANGE), ("SSS", 82, 1279, 21, '#f15a29'),
    ("E G C", 75, 883, 27, '#3d73c0'), ("E G C", 73, 881, 27, '#1b1f2a'),
    ("E G C", 75, 1223, 27, '#3d73c0'), ("E G C", 73, 1221, 27, '#1b1f2a'),
]
BOLD_RIGHT = [("Fully closed", 975, 101, 18, PAN), ("Shelf open", 975, 128, 18, PAN),
              ("I.W. open", 975, 183, 18, PAN)]
BOLD_LEFT = [("off northern Iceland", 178, 322, 19, PURP), ("off south Greenland", 250, 507, 19, PURP)]
NORMAL_CENTER = [
    ("Site 907", 789, 254, 24, GREEN), ("Site 1307", 796, 400, 24, GREEN),
    ("(Jansen et al., 2000; modified)", 777, 352, 11, '#333'), ("LR04 stack", 799, 707, 24, GREEN),
    ("104", 196, 773, 11, '#111'), ("G6", 265, 769, 11, '#111'), ("G10", 329, 760, 11, '#111'),
    ("G12", 357, 714, 11, '#111'), ("G20", 472, 716, 11, '#111'), ("K2", 524, 656, 11, '#111'),
    ("KM2", 555, 703, 11, '#111'), ("M2", 664, 755, 11, '#111'), ("MG4", 726, 686, 11, '#111'),
    ("MG8", 824, 658, 11, '#111'),
    ("-6°C", 493, 842, 17, RED), ("-2 psu", 495, 950, 17, RED),
    ("-6°C", 528, 1170, 17, RED), ("-2 psu", 525, 1292, 17, RED),
    ("‰", 163, 78, 8, '#222'), ("SMOW", 155, 86, 8, '#222'),
    ("‰ SMOW", 158, 904, 9, '#222'), ("‰ SMOW", 158, 1232, 9, '#222'),
    ("°C", 903, 726, 15, '#111'), ("°C", 903, 1068, 15, '#111'),
]
NORMAL_RIGHT = [("Site 1307: age model 2", 866, 893, 24, GREEN), ("Site 1307: age model 1", 866, 1225, 24, GREEN)]
NORMAL_LEFT = [
    ("(Steph et al., 2006,", 718, 158, 11, '#3f4fb8'), ("and Groeneveld, 2005)", 718, 173, 11, '#3f4fb8'),
    ("IRD / g dry", 901, 241, 12, '#111'), ("sediment", 901, 257, 12, '#111'),
    ("IRD / g dry", 100, 380, 12, '#111'), ("sediment", 100, 396, 12, '#111'),
    ("Δδ", 195, 72, 15, '#6f80cb'), ("18", 213, 66, 10, '#6f80cb'), ("O", 223, 72, 15, '#6f80cb'),
    ("s.w.", 234, 77, 10, '#6f80cb'), ("Caribbean-East Pacific", 258, 72, 15, '#6f80cb'),
    ("‰", 119, 614, 15, '#111'), ("δ", 139, 614, 16, '#111'), ("18", 149, 608, 10, '#111'),
    ("O", 160, 614, 16, '#111'),
    ("δ", 193, 887, 18, SWBLUE), ("18", 202, 880, 12, SWBLUE), ("O", 216, 887, 19, SWBLUE),
    ("sw", 232, 892, 15, SWBLUE),
    ("δ", 196, 1215, 18, SWBLUE), ("18", 205, 1208, 12, SWBLUE), ("O", 219, 1215, 19, SWBLUE),
    ("sw", 235, 1220, 15, SWBLUE),
]
layers.append(text_layer(BOLD_CENTER, 'bold', 'center'))
layers.append(text_layer(BOLD_RIGHT, 'bold', 'right'))
layers.append(text_layer(BOLD_LEFT, 'bold', 'left'))
layers.append(text_layer(NORMAL_CENTER, 'normal', 'center'))
layers.append(text_layer(NORMAL_RIGHT, 'normal', 'right'))
layers.append(text_layer(NORMAL_LEFT, 'normal', 'left'))

chart = alt.layer(*layers).resolve_scale(
    x='independent', y='independent'
).resolve_axis(
    x='independent', y='independent'
).properties(
    width=W, height=H,
    autosize=alt.AutoSizeParams(type='none'),
    padding={'left': L0, 'top': T0, 'right': 978 - L0 - W, 'bottom': 1423 - T0 - H},
    background='white',
).configure_view(strokeWidth=0)

chart.save("out.html", embed_options={"renderer": "svg", "actions": False})
